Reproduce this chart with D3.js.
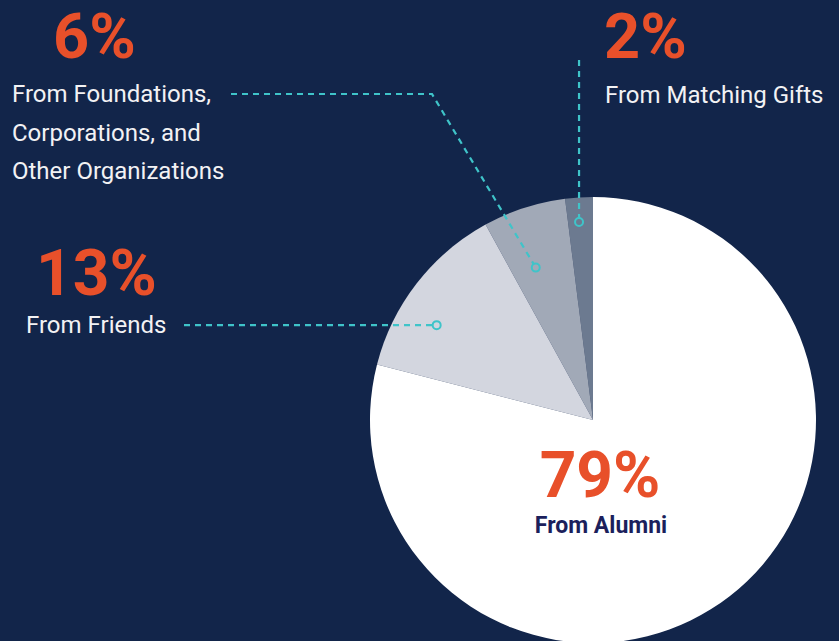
<!DOCTYPE html>
<html><head><meta charset="utf-8">
<script src="https://cdn.jsdelivr.net/npm/d3@7"></script>
<style>html,body{margin:0;padding:0;background:#12254a;}svg{display:block;}</style>
</head><body>
<svg id="c" width="839" height="641"></svg>
<script>
// Data
const categories = ["From Matching Gifts", "From Foundations, Corporations, and Other Organizations", "From Friends", "From Alumni"];
const values = [2, 6, 13, 79];
const pctLabels = ["2%", "6%", "13%", "79%"];
const labelLines = [["From Matching Gifts"], ["From Foundations,", "Corporations, and", "Other Organizations"], ["From Friends"], ["From Alumni"]];

// Styles / layout
const W = 839, H = 641;
const cx = 593, cy = 420, R = 223;
const sliceColors = ["#6c7a90", "#a1a9b7", "#d3d6df", "#ffffff"];
const orange = "#e8502a", teal = "#3fc4c9", navy = "#1b1f5c";

const svg = d3.select("#c");
svg.append("rect").attr("width", W).attr("height", H).attr("fill", "#12254a");

const pie = d3.pie().sort(null).startAngle(0).endAngle(-2 * Math.PI).value(d => d);
const arcs = pie(values);
const arc = d3.arc().innerRadius(0).outerRadius(R);
const g = svg.append("g").attr("transform", `translate(${cx},${cy})`);
g.selectAll("path").data(arcs).join("path")
  .attr("d", arc).attr("fill", (d, i) => sliceColors[i]);

// leader dot placement within slice: [fraction along slice angle, fraction of radius]
const dotLayout = [[0.56, 0.89], [0.62, 0.73], [0.64, 0.82], null];
function dotPos(i) {
  const a = arcs[i], L = dotLayout[i];
  const ang = a.startAngle + (a.endAngle - a.startAngle) * L[0];
  const r = R * L[1];
  return [cx + r * Math.sin(ang), cy - r * Math.cos(ang)];
}

const lineG = svg.append("g").attr("fill", "none").attr("stroke", teal)
  .attr("stroke-width", 2.2).attr("stroke-dasharray", "6,5");
// Matching gifts: vertical leader
const p0 = dotPos(0);
lineG.append("path").attr("d", d3.line()([[p0[0], 60], [p0[0], p0[1] - 4]]));
// Foundations: horizontal then diagonal
const p1 = dotPos(1);
const ang1 = Math.atan2(p1[1] - 94, p1[0] - 432);
lineG.append("path").attr("d", d3.line()([[231, 94], [432, 94], [p1[0] - 4 * Math.cos(ang1), p1[1] - 4 * Math.sin(ang1)]]));
// Friends: horizontal
const p2 = dotPos(2);
lineG.append("path").attr("d", d3.line()([[184, p2[1]], [p2[0] - 4, p2[1]]]));

svg.append("g").selectAll("circle").data([p0, p1, p2]).join("circle")
  .attr("cx", d => d[0]).attr("cy", d => d[1]).attr("r", 4)
  .attr("fill", "none").attr("stroke", teal).attr("stroke-width", 2);

// Text labels
const labelLayout = [
  {px: 604, py: 58, lx: 605, ly: 103, anchor: "start", pSize: 63, lSize: 24, lh: 38, bold: false},
  {px: 53, py: 58, lx: 12, ly: 102, anchor: "start", pSize: 63, lSize: 24, lh: 38.5, bold: false},
  {px: 36, py: 295, lx: 26, ly: 333, anchor: "start", pSize: 64, lSize: 24, lh: 38, bold: false},
  {px: 600, py: 497, lx: 601, ly: 533, anchor: "middle", pSize: 64, lSize: 23, lh: 38, bold: true}
];
const tg = svg.append("g").attr("font-family", "Roboto, 'Noto Sans', sans-serif");
labelLayout.forEach((L, i) => {
  tg.append("text").attr("x", L.px).attr("y", L.py).attr("text-anchor", L.anchor)
    .attr("font-size", L.pSize).attr("font-weight", 700).attr("fill", orange)
    .text(pctLabels[i]);
  labelLines[i].forEach((s, j) => {
    tg.append("text").attr("x", L.lx).attr("y", L.ly + j * L.lh).attr("text-anchor", L.anchor)
      .attr("font-size", L.lSize)
      .attr("font-weight", L.bold ? 700 : 400)
      .attr("fill", L.bold ? navy : "#f2f2f4")
      .text(s);
  });
});
</script>
</body></html>
